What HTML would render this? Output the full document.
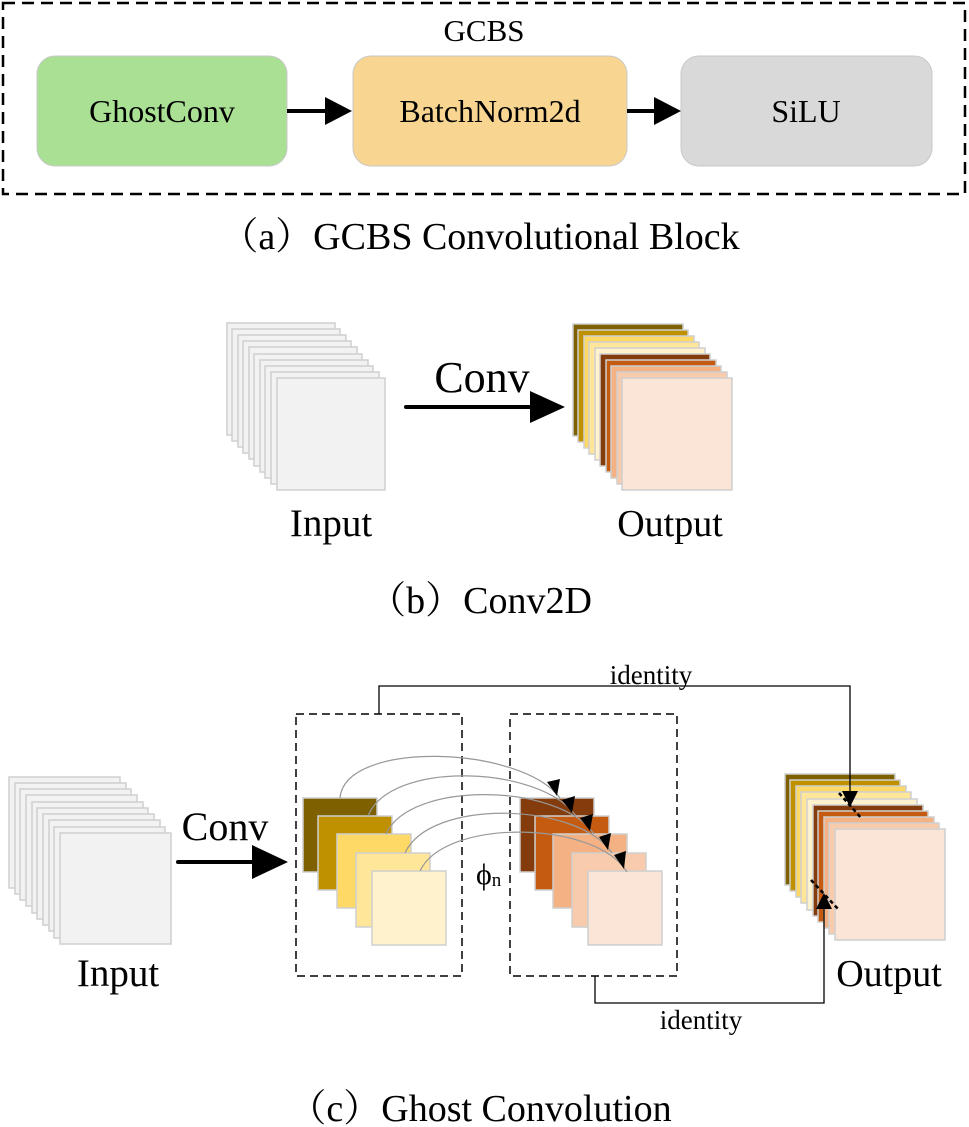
<!DOCTYPE html>
<html><head><meta charset="utf-8"><style>
html,body{margin:0;padding:0;background:#fff}
svg{display:block}
text{font-family:"Liberation Serif","Noto Serif CJK SC",serif;fill:#000}
</style></head><body>
<svg width="969" height="1127" viewBox="0 0 969 1127" xmlns="http://www.w3.org/2000/svg">
<!-- (a) -->
<rect x="3" y="3" width="962" height="191" fill="none" stroke="#000" stroke-width="2.5" stroke-dasharray="12,7"/>
<text x="484" y="41" font-size="31" text-anchor="middle">GCBS</text>
<rect x="37" y="56" width="250" height="110" rx="18" fill="#a9e094" stroke="#c8c8c8" stroke-width="1"/>
<text x="162" y="122" font-size="32" text-anchor="middle">GhostConv</text>
<rect x="353" y="56" width="274" height="110" rx="18" fill="#f8d692" stroke="#c8c8c8" stroke-width="1"/>
<text x="490" y="122" font-size="32" text-anchor="middle">BatchNorm2d</text>
<rect x="681" y="56" width="251" height="110" rx="18" fill="#d9d9d9" stroke="#c8c8c8" stroke-width="1"/>
<text x="806" y="122" font-size="32" text-anchor="middle">SiLU</text>
<line x1="287" y1="111" x2="326" y2="111" stroke="#000" stroke-width="4"/>
<path d="M325,97 L352,111 L325,125 Z"/>
<line x1="627" y1="111" x2="655" y2="111" stroke="#000" stroke-width="4"/>
<path d="M654,97 L681,111 L654,125 Z"/>
<text x="480" y="249" font-size="38" text-anchor="middle">（a）GCBS Convolutional Block</text>

<!-- (b) -->
<g stroke="#cfcfcf" stroke-width="1.5" fill="#f2f2f2">
<rect x="227" y="323" width="108" height="112"/>
<rect x="232" y="329" width="108" height="112"/>
<rect x="238" y="335" width="108" height="112"/>
<rect x="243" y="341" width="108" height="112"/>
<rect x="249" y="347" width="108" height="112"/>
<rect x="254" y="354" width="108" height="112"/>
<rect x="260" y="360" width="108" height="112"/>
<rect x="265" y="366" width="108" height="112"/>
<rect x="271" y="372" width="108" height="112"/>
<rect x="277" y="378" width="108" height="112"/>
</g>
<line x1="406" y1="407" x2="532" y2="407" stroke="#000" stroke-width="4" stroke-linecap="round"/>
<path d="M530,391 L565,407 L530,423 Z"/>
<text x="482" y="392" font-size="44" text-anchor="middle">Conv</text>
<g stroke="#cfcfcf" stroke-width="1.5">
<rect x="573" y="324" width="110" height="112" fill="#7f6000"/>
<rect x="578" y="330" width="110" height="112" fill="#bf9000"/>
<rect x="584" y="336" width="110" height="112" fill="#ffd966"/>
<rect x="589" y="342" width="110" height="112" fill="#ffe699"/>
<rect x="595" y="348" width="110" height="112" fill="#fff2cc"/>
<rect x="600" y="354" width="110" height="112" fill="#843c0c"/>
<rect x="606" y="360" width="110" height="112" fill="#c55a11"/>
<rect x="611" y="366" width="110" height="112" fill="#f4b183"/>
<rect x="617" y="372" width="110" height="112" fill="#f8cbad"/>
<rect x="622" y="378" width="110" height="112" fill="#fbe5d6"/>
</g>
<text x="331" y="536" font-size="39" text-anchor="middle">Input</text>
<text x="670" y="536" font-size="38" text-anchor="middle">Output</text>
<text x="480" y="613" font-size="38" text-anchor="middle">（b）Conv2D</text>

<!-- (c) -->
<g stroke="#cfcfcf" stroke-width="1.5" fill="#f2f2f2">
<rect x="9" y="777" width="111" height="111"/>
<rect x="15" y="783" width="111" height="111"/>
<rect x="20" y="789" width="111" height="111"/>
<rect x="26" y="795" width="111" height="111"/>
<rect x="32" y="802" width="111" height="111"/>
<rect x="37" y="808" width="111" height="111"/>
<rect x="43" y="814" width="111" height="111"/>
<rect x="49" y="820" width="111" height="111"/>
<rect x="54" y="827" width="111" height="111"/>
<rect x="60" y="833" width="111" height="111"/>
</g>
<line x1="178" y1="862" x2="254" y2="862" stroke="#000" stroke-width="4" stroke-linecap="round"/>
<path d="M252,845 L288,862 L252,879 Z"/>
<text x="225" y="840" font-size="40" text-anchor="middle">Conv</text>
<text x="118" y="986" font-size="39" text-anchor="middle">Input</text>

<rect x="296" y="714" width="166" height="262" fill="none" stroke="#000" stroke-width="1.5" stroke-dasharray="8,5"/>
<rect x="510" y="714" width="167" height="262" fill="none" stroke="#000" stroke-width="1.5" stroke-dasharray="8,5"/>

<g stroke="#cfcfcf" stroke-width="1.5">
<rect x="303" y="798" width="74" height="74" fill="#7f6000"/>
<rect x="318" y="816" width="74" height="74" fill="#bf9000"/>
<rect x="337" y="834" width="74" height="74" fill="#ffd966"/>
<rect x="356" y="853" width="74" height="74" fill="#ffe699"/>
<rect x="372" y="871" width="74" height="74" fill="#fff2cc"/>
<rect x="520" y="798" width="74" height="74" fill="#843c0c"/>
<rect x="535" y="816" width="74" height="74" fill="#c55a11"/>
<rect x="553" y="834" width="74" height="74" fill="#f4b183"/>
<rect x="572" y="853" width="74" height="74" fill="#f8cbad"/>
<rect x="588" y="871" width="74" height="74" fill="#fbe5d6"/>
</g>
<g fill="none" stroke="#999" stroke-width="1.2">
<path d="M340,798 C345,740 520,745 560,798"/>
<path d="M368,816 C390,760 540,765 576,816"/>
<path d="M386,834 C410,780 560,783 594,834"/>
<path d="M405,853 C430,798 578,802 612,853"/>
<path d="M420,871 C445,818 595,820 627,872"/>
</g>
<g>
<path d="M547,782 L557,796 L560,779 Z"/>
<path d="M562,800 L572,813 L575,796 Z"/>
<path d="M580,818 L590,831 L593,814 Z"/>
<path d="M599,837 L608,850 L611,833 Z"/>
<path d="M614,855 L624,869 L626,851 Z"/>
</g>
<text x="476" y="884" font-size="30">ϕ<tspan font-size="19" dy="2">n</tspan></text>

<g stroke="#cfcfcf" stroke-width="1.5">
<rect x="785" y="774" width="110" height="111" fill="#7f6000"/>
<rect x="790" y="780" width="110" height="111" fill="#bf9000"/>
<rect x="796" y="786" width="110" height="111" fill="#ffd966"/>
<rect x="801" y="792" width="110" height="111" fill="#ffe699"/>
<rect x="807" y="799" width="110" height="111" fill="#fff2cc"/>
<rect x="813" y="805" width="110" height="111" fill="#843c0c"/>
<rect x="818" y="811" width="110" height="111" fill="#c55a11"/>
<rect x="824" y="817" width="110" height="111" fill="#f4b183"/>
<rect x="829" y="823" width="110" height="111" fill="#f8cbad"/>
<rect x="835" y="829" width="110" height="111" fill="#fbe5d6"/>
</g>
<polyline points="379,714 379,686 850,686 850,792" fill="none" stroke="#000" stroke-width="1.3"/>
<path d="M842,791 L858,791 L850,807 Z"/>
<line x1="839" y1="793" x2="862" y2="819" stroke="#000" stroke-width="2.5" stroke-dasharray="4,3"/>
<polyline points="595,976 595,1003 824,1003 824,908" fill="none" stroke="#000" stroke-width="1.3"/>
<path d="M816,909 L832,909 L824,893 Z"/>
<line x1="811" y1="880" x2="839" y2="910" stroke="#000" stroke-width="2.5" stroke-dasharray="4,3"/>
<text x="651" y="684" font-size="27" text-anchor="middle">identity</text>
<text x="701" y="1029" font-size="27" text-anchor="middle">identity</text>
<text x="889" y="986" font-size="38" text-anchor="middle">Output</text>
<text x="480" y="1121" font-size="38" text-anchor="middle">（c）Ghost Convolution</text>
</svg>
</body></html>
